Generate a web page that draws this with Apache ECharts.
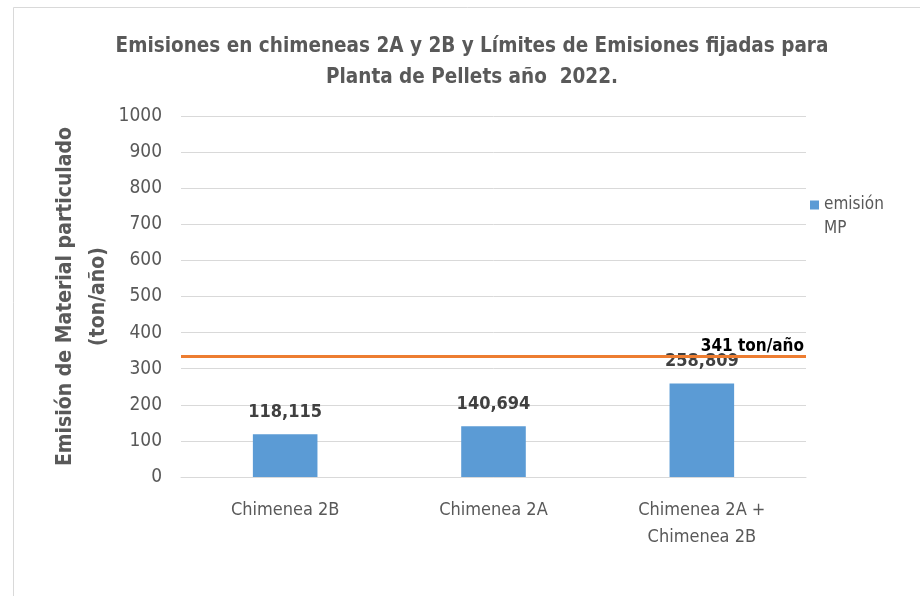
<!DOCTYPE html>
<html><head><meta charset="utf-8">
<script src="https://cdn.jsdelivr.net/npm/echarts@6/dist/echarts.min.js"></script>
<style>html,body{margin:0;padding:0;background:#fff}#c{width:920px;height:596px}</style>
</head><body><div id="c"></div>
<script>
const categories = ['Chimenea 2B', 'Chimenea 2A', 'Chimenea 2A +\nChimenea 2B'];
const emisionMP = [118.115, 140.694, 258.809];
const dataLabels = ['118,115', '140,694', '258,809'];
const limiteDrawn = 334;          // where the orange line sits in the picture
const limiteLabel = '341 ton/año';
const yTicks = [0, 100, 200, 300, 400, 500, 600, 700, 800, 900, 1000];

const FONT = '"Liberation Sans Narrow","DejaVu Sans Condensed","Open Sans",sans-serif';
const chart = echarts.init(document.getElementById('c'));
chart.setOption({
  backgroundColor: '#fff',
  animation: false,
  graphic: [{type:'rect', shape:{x:13.5, y:7.5, width:930, height:620}, style:{fill:'none', stroke:'#d9d9d9', lineWidth:1}, silent:true}],
  title: {
    text: 'Emisiones en chimeneas 2A y 2B y Límites de Emisiones fijadas para\nPlanta de Pellets año  2022.',
    left: 467, top: 26, textAlign: 'center',
    textStyle: {fontFamily: FONT, fontSize: 20.5, fontWeight: 'bold', color: '#595959', lineHeight: 31}
  },
  legend: {
    data: ['emisión\nMP'], left: 805, top: 164, orient: 'vertical',
    itemWidth: 9, itemHeight: 9, itemGap: 4, icon: 'rect',
    formatter: n => ' \n' + n,
    textStyle: {fontFamily: FONT, fontSize: 17, color: '#595959', lineHeight: 24}
  },
  grid: {left: 181, right: 114, top: 116, bottom: 119, containLabel: false},
  xAxis: {
    type: 'category', data: categories,
    axisLine: {lineStyle: {color: '#d9d9d9'}}, axisTick: {show: false},
    axisLabel: {fontFamily: FONT, fontSize: 18, color: '#595959', margin: 20, lineHeight: 27}
  },
  yAxis: {
    type: 'value', min: yTicks[0], max: yTicks[yTicks.length-1], interval: 100,
    name: 'Emisión de Material particulado\n(ton/año)', nameLocation: 'middle', nameGap: 66,
    nameMoveOverlap: false,
    nameTextStyle: {fontFamily: FONT, fontSize: 21, fontWeight: 'bold', color: '#595959', lineHeight: 33},
    axisLine: {show: false}, axisTick: {show: false},
    axisLabel: {fontFamily: FONT, fontSize: 19, color: '#595959', margin: 19, formatter: v => String(v)},
    splitLine: {lineStyle: {color: '#d9d9d9', width: 1}}
  },
  series: [{
    name: 'emisión\nMP', type: 'bar', data: emisionMP, barWidth: '31%',
    itemStyle: {color: '#5B9BD5'},
    label: {show: true, position: 'top', distance: 13,
      formatter: p => dataLabels[p.dataIndex],
      fontFamily: FONT, fontSize: 18, fontWeight: 'bold', color: '#404040'},
    markLine: {
      symbol: 'none', silent: true,
      lineStyle: {color: '#ED7D31', width: 3, type: 'solid'},
      label: {show: true, position: 'insideEndTop', formatter: limiteLabel, distance: [2, 1],
        fontFamily: FONT, fontSize: 17, fontWeight: 'bold', color: '#000'},
      data: [{yAxis: limiteDrawn}]
    }
  }]
});
</script></body></html>
